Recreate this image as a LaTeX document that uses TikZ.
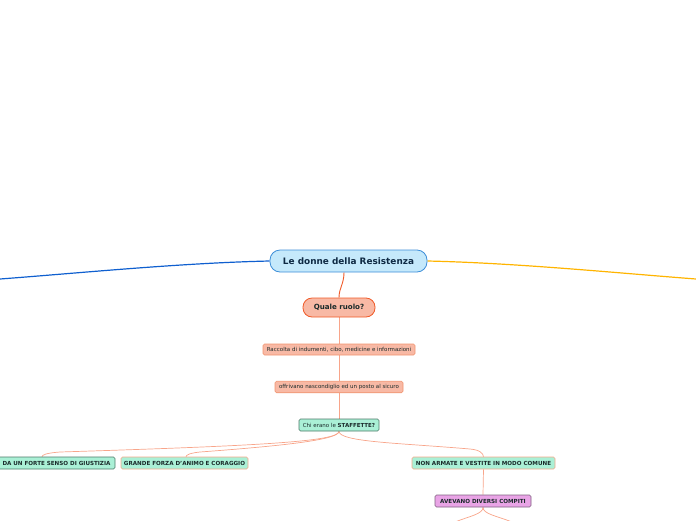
\documentclass[tikz,border=0pt]{standalone}
\usepackage{fontspec}
\setmainfont{DejaVu Sans}
\usetikzlibrary{backgrounds}
\definecolor{cfill}{HTML}{C5E9FB}
\definecolor{cdraw}{HTML}{3D8ED8}
\definecolor{sfill}{HTML}{F8B9A5}
\definecolor{sdraw}{HTML}{F05A28}
\definecolor{sdrawl}{HTML}{F0936F}
\definecolor{mfill}{HTML}{AAF0D6}
\definecolor{mdrawd}{HTML}{4D7A68}
\definecolor{mdraws}{HTML}{F4A98A}
\definecolor{pfill}{HTML}{E9A4E6}
\definecolor{pdraw}{HTML}{806080}
\definecolor{lblue}{HTML}{0F5FCF}
\definecolor{lorange}{HTML}{FFB400}
\definecolor{lsalmon}{HTML}{F8A58A}
\definecolor{ttitle}{HTML}{0F2A44}
\definecolor{tdark}{HTML}{1A2A2A}
\tikzset{
  base/.style={inner sep=0pt, align=center, text=tdark},
  central/.style={base, draw=cdraw, fill=cfill, line width=0.8pt, rounded corners=10pt, text=ttitle, font=\fontsize{8.9}{11}\selectfont\bfseries},
  main/.style={base, draw=sdraw, fill=sfill, line width=0.8pt, rounded corners=9pt, font=\fontsize{7.1}{8}\selectfont\bfseries},
  leaf/.style={base, draw=sdrawl, fill=sfill, line width=0.6pt, rounded corners=1.5pt, font=\fontsize{5.5}{6}\selectfont},
  mint/.style={base, fill=mfill, line width=0.6pt, rounded corners=1.5pt, font=\fontsize{5.6}{6}\selectfont\bfseries},
  purp/.style={base, draw=pdraw, fill=pfill, line width=0.6pt, rounded corners=1.5pt, font=\fontsize{5.6}{6}\selectfont\bfseries},
  conn/.style={draw=lsalmon, line width=0.7pt},
}
\begin{document}
\begin{tikzpicture}[x=1pt,y=-1pt]
\useasboundingbox (0,0) rectangle (696,520);
\clip (0,0) rectangle (696,520);
\coordinate (bl) at (0,279);
\coordinate (or) at (696,279);
\coordinate (c1) at (455,522);
\coordinate (c2) at (512,522);
\node[central, minimum width=157pt, minimum height=22pt] (root) at (348.5,261) {Le donne della Resistenza};
\node[main, minimum width=72pt, minimum height=19pt] (q) at (339,307.5) {Quale ruolo?};
\node[leaf, minimum width=152pt, minimum height=11pt] (r) at (339,349.5) {Raccolta di indumenti, cibo, medicine e informazioni};
\node[leaf, minimum width=128pt, minimum height=11.5pt] (o) at (339,387) {offrivano nascondiglio ed un posto al sicuro};
\node[mint, draw=mdrawd, minimum width=80pt, minimum height=12pt, font=\fontsize{5.5}{6}\selectfont] (s) at (339,425) {Chi erano le \textbf{STAFFETTE?}};
\node[mint, draw=mdrawd, minimum width=117pt, minimum height=12pt] (g) at (56.5,463) {DA UN FORTE SENSO DI GIUSTIZIA};
\node[mint, draw=mdraws, minimum width=127pt, minimum height=12pt] (f) at (184.5,463) {GRANDE FORZA D’ANIMO E CORAGGIO};
\node[mint, draw=mdraws, minimum width=143pt, minimum height=12pt] (n) at (483.5,463) {NON ARMATE E VESTITE IN MODO COMUNE};
\node[purp, minimum width=96pt, minimum height=12pt] (a) at (483,501) {AVEVANO DIVERSI COMPITI};
\begin{scope}[on background layer]
\draw[lblue, line width=1.2pt] (root.west) .. controls (180,263) and (80,273) .. (bl);
\draw[lorange, line width=1.2pt] (root.east) .. controls (517,263) and (617,273) .. (or);
\draw[sdraw, line width=0.9pt] ([xshift=-4.5pt]root.south) .. controls (344,284) and (339,288) .. (q.north);
\draw[conn] (q.south) -- (r.north);
\draw[conn] (r.south) -- (o.north);
\draw[conn] (o.south) -- (s.north);
\draw[conn] (s.south) .. controls (339,442) and (250,446) .. (60,452) .. controls (46,453) and (42,455) .. ([xshift=-14.5pt]g.north);
\draw[conn] (s.south) .. controls (339,440) and (280,446) .. (200,452) .. controls (190,453) and (186,455) .. ([xshift=1.5pt]f.north);
\draw[conn] (s.south) .. controls (339,442) and (400,443) .. (470,449) .. controls (480,450) and (483,453) .. (n.north);
\draw[conn] (n.south) -- (a.north);
\draw[conn] (a.south) .. controls (483,514) and (470,516) .. (c1);
\draw[conn] (a.south) .. controls (483,514) and (497,516) .. (c2);
\end{scope}
\end{tikzpicture}
\end{document}
